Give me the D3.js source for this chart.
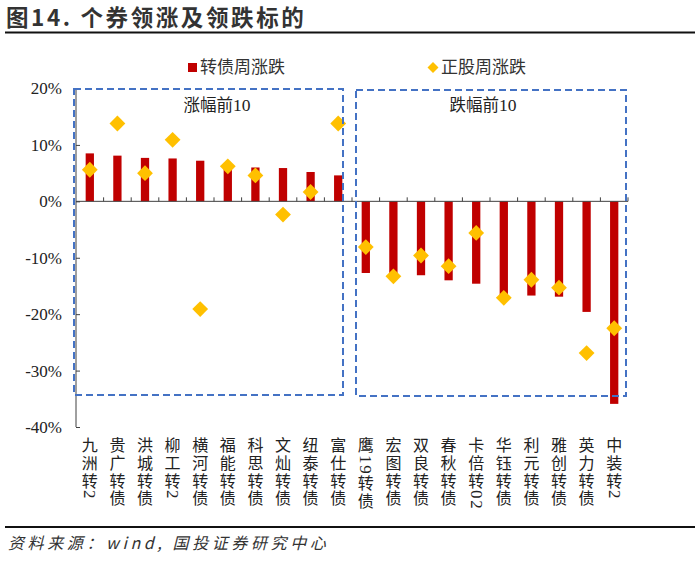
<!DOCTYPE html>
<html><head><meta charset="utf-8">
<script src="https://cdn.jsdelivr.net/npm/d3@7"></script>
<style>body{margin:0;background:#fff}svg{display:block}</style>
</head><body>
<svg id="c" width="700" height="561"></svg>
<script>
const categories = ["九洲转2","贵广转债","洪城转债","柳工转2","横河转债","福能转债","科思转债","文灿转债","纽泰转债","富仕转债",
  "鹰19转债","宏图转债","双良转债","春秋转债","卡倍转02","华钰转债","利元转债","雅创转债","英力转债","中装转2"];
const bondChange = [8.5, 8.1, 7.7, 7.6, 7.2, 6.6, 6.0, 5.9, 5.2, 4.6,
  -12.7, -12.9, -13.1, -14.0, -14.6, -16.7, -16.7, -16.9, -19.6, -35.9];
const stockChange = [5.6, 13.8, 5.0, 10.9, -19.1, 6.2, 4.6, -2.35, 1.65, 13.8,
  -8.1, -13.3, -9.6, -11.5, -5.6, -17.1, -13.9, -15.3, -26.9, -22.5];
const yTicks = [20, 10, 0, -10, -20, -30, -40];
const seriesNames = ["转债周涨跌", "正股周涨跌"];
const groupLabels = ["涨幅前10", "跌幅前10"];
const title = "图14. 个券领涨及领跌标的";
const source = "资料来源：wind, 国投证券研究中心";

const svg = d3.select("#c");
const serif = "'Liberation Serif','Times New Roman',serif";
const cjk = "'Noto Sans CJK SC','Noto Sans',sans-serif";
const red = "#C00000", gold = "#FFC000", blue = "#4472C4", axisCol = "#404040";

const x = d3.scaleBand().domain(categories).range([76, 628]).paddingInner(0.7).paddingOuter(0.35);
const xb = d3.scaleBand().domain(categories).range([76, 628]);
const y = d3.scaleLinear().domain([-40, 20]).range([427, 88.5]);

// title
svg.append("text").attr("x", 6).attr("y", 26).attr("font-family", cjk).attr("font-weight", "bold")
  .attr("font-size", 22.5).attr("letter-spacing", 2.6).attr("fill", "#333").text(title);
svg.append("line").attr("x1", 5).attr("x2", 695).attr("y1", 32.5).attr("y2", 32.5).attr("stroke", "#111").attr("stroke-width", 2);
// footer
svg.append("line").attr("x1", 5).attr("x2", 695).attr("y1", 527).attr("y2", 527).attr("stroke", "#111").attr("stroke-width", 2);
svg.append("text").attr("x", 8).attr("y", 549).attr("font-family", cjk).attr("font-style", "italic")
  .attr("font-size", 16).attr("letter-spacing", 3.6).attr("fill", "#333").text(source);

// y axis
const yAxis = d3.axisRight(y).tickValues(yTicks).tickSize(4).tickFormat(d => d + "%");
const ga = svg.append("g").attr("transform", "translate(76,0)").call(yAxis);
ga.select(".domain").attr("stroke", axisCol).attr("d", `M0,${y(20)}V${y(-40)}`);
ga.selectAll(".tick line").attr("stroke", axisCol);
ga.selectAll(".tick text").attr("x", -14).attr("text-anchor", "end").attr("font-family", serif)
  .attr("font-size", 17).attr("fill", "#222");

// bars
svg.append("g").selectAll("rect").data(categories).join("rect")
  .attr("x", d => x(d)).attr("width", x.bandwidth())
  .attr("y", (d, i) => y(Math.max(0, bondChange[i])))
  .attr("height", (d, i) => Math.abs(y(bondChange[i]) - y(0)))
  .attr("fill", red);

// x axis line and ticks
svg.append("line").attr("x1", 76).attr("x2", 628).attr("y1", y(0)).attr("y2", y(0)).attr("stroke", axisCol).attr("stroke-width", 1);
svg.append("g").selectAll("line").data(categories).join("line")
  .attr("x1", d => xb(d) + xb.bandwidth()).attr("x2", d => xb(d) + xb.bandwidth())
  .attr("y1", y(0)).attr("y2", y(0) - 4).attr("stroke", axisCol);

// diamonds (squares rotated 45°)
svg.append("g").selectAll("path").data(categories).join("path")
  .attr("d", d3.symbol(d3.symbolSquare, 125))
  .attr("transform", (d, i) => `translate(${x(d) + x.bandwidth() / 2},${y(stockChange[i])}) rotate(45)`)
  .attr("fill", gold);

// dashed boxes
const boxes = [[74, 343, 89, 395], [356, 626, 90, 396]];
svg.append("g").selectAll("rect").data(boxes).join("rect")
  .attr("x", d => d[0]).attr("y", d => d[2]).attr("width", d => d[1] - d[0]).attr("height", d => d[3] - d[2])
  .attr("fill", "none").attr("stroke", blue).attr("stroke-width", 2).attr("stroke-dasharray", "7,4");
svg.append("g").selectAll("text").data(groupLabels).join("text")
  .attr("x", (d, i) => i === 0 ? 217 : 483).attr("y", 111).attr("text-anchor", "middle")
  .attr("font-family", cjk).attr("font-size", 16.5).attr("fill", "#222")
  .each(function (d) {
    const m = d.match(/^(\D+)(\d+)$/);
    d3.select(this).append("tspan").text(m[1]);
    d3.select(this).append("tspan").attr("font-family", serif).attr("font-size", 17.5).text(m[2]);
  });

// legend
svg.append("rect").attr("x", 188).attr("y", 63).attr("width", 9).attr("height", 9).attr("fill", red);
svg.append("text").attr("x", 200).attr("y", 73).attr("font-family", cjk).attr("font-size", 17).attr("fill", "#333").text(seriesNames[0]);
svg.append("path").attr("d", d3.symbol(d3.symbolSquare, 60)).attr("transform", "translate(433,67.5) rotate(45)").attr("fill", gold);
svg.append("text").attr("x", 441).attr("y", 73).attr("font-family", cjk).attr("font-size", 17).attr("fill", "#333").text(seriesNames[1]);

// x labels (vertical writing mode)
svg.append("g").selectAll("text").data(categories).join("text")
  .attr("x", d => x(d) + x.bandwidth() / 2).attr("y", 437)
  .style("writing-mode", "vertical-rl").style("text-orientation", "mixed")
  .attr("font-family", cjk).attr("font-size", 16).attr("letter-spacing", 1.8).attr("fill", "#222")
  .each(function (d) {
    const parts = d.match(/\d+|\D+/g);
    parts.forEach(p => {
      const t = d3.select(this).append("tspan").text(p);
      if (/\d/.test(p)) t.attr("font-family", serif).attr("font-size", 17);
    });
  });
</script>
</body></html>
